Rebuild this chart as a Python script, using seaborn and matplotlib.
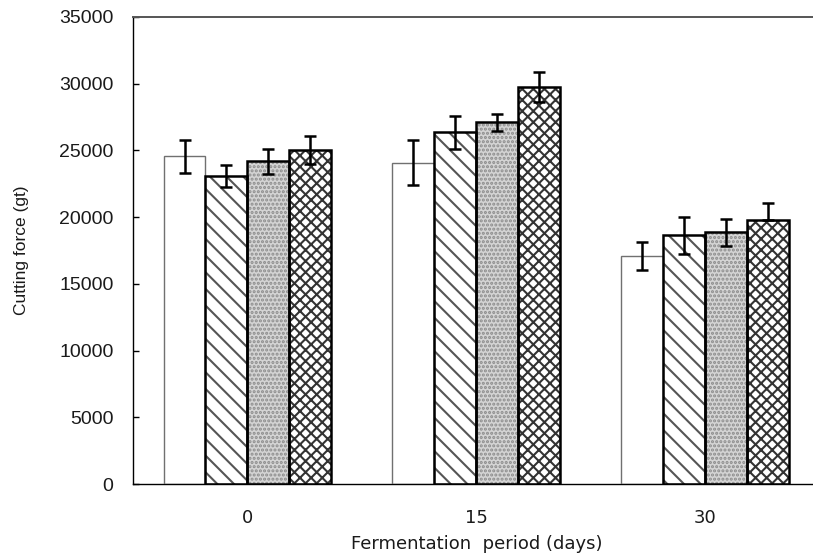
import matplotlib
matplotlib.use("Agg")
import matplotlib.pyplot as plt
import numpy as np
import pandas as pd
import seaborn as sns

# values
periods = ["0", "15", "30"]
treatments = ["T1", "T2", "T3", "T4"]
force_mean = {
    "T1": [24550, 24080, 17100],
    "T2": [23100, 26380, 18650],
    "T3": [24170, 27100, 18850],
    "T4": [25040, 29750, 19800],
}
err_low = {
    "T1": [1250, 1700, 1030],
    "T2": [830, 1300, 1380],
    "T3": [960, 670, 990],
    "T4": [1030, 1130, 0],
}
err_high = {
    "T1": [1220, 1700, 1050],
    "T2": [800, 1220, 1340],
    "T3": [970, 650, 980],
    "T4": [1020, 1120, 1250],
}

styles = {
    "T1": dict(face="white", hatch="", hatch_col="#707070", edge="#707070", lw=1.0),
    "T2": dict(face="white", hatch="\\\\", hatch_col="#555555", edge="black", lw=1.8),
    "T3": dict(face="#d4d4d4", hatch="....", hatch_col="#8c8c8c", edge="black", lw=1.8),
    "T4": dict(face="white", hatch="xxx", hatch_col="#333333", edge="black", lw=1.8),
}

rows = []
for t in treatments:
    for i, p in enumerate(periods):
        rows.append({"period": p, "treatment": t, "force": force_mean[t][i]})
df = pd.DataFrame(rows)

sns.set_theme(style="white")
plt.rcParams["hatch.linewidth"] = 1.5

fig = plt.figure(figsize=(8.13, 5.6), dpi=100)
ax = fig.add_axes([0.1636, 0.1357, 0.8444, 0.834])

sns.barplot(
    data=df, x="period", y="force", hue="treatment",
    order=periods, hue_order=treatments,
    errorbar=None, width=0.733, gap=0, legend=False, ax=ax,
)

bars = [p for p in ax.patches if p.get_height() > 0]
k = 0
for t in treatments:
    st = styles[t]
    for i in range(len(periods)):
        bar = bars[k]
        k += 1
        bar.set_facecolor(st["face"])
        bar.set_hatch(st["hatch"])
        bar.set_edgecolor(st["hatch_col"])
        bar.set_linewidth(0)
        outline = plt.Rectangle(bar.get_xy(), bar.get_width(), bar.get_height(),
                                fill=False, edgecolor=st["edge"], lw=st["lw"], zorder=3)
        ax.add_patch(outline)
        xc = bar.get_x() + bar.get_width() / 2
        ax.errorbar(xc, bar.get_height(),
                    yerr=[[err_low[t][i]], [err_high[t][i]]],
                    fmt="none", ecolor="black", elinewidth=1.8,
                    capsize=4.5, capthick=1.8, zorder=4)

ax.set_xlim(-0.5, 2.5)
ax.set_ylim(0, 35000)
ax.set_yticks(np.arange(0, 35001, 5000))

ax.spines["right"].set_visible(False)
for s in ["left", "bottom"]:
    ax.spines[s].set_color("black")
    ax.spines[s].set_linewidth(1.0)
ax.spines["top"].set_color("#555555")
ax.spines["top"].set_linewidth(1.4)

ax.tick_params(axis="y", direction="in", length=4, width=1, color="black",
               left=True, pad=14, labelsize=14)
ax.tick_params(axis="x", length=0, pad=18, labelsize=13)
for lab in ax.get_yticklabels():
    lab.set_fontfamily("Liberation Sans")
    lab.set_color("#1a1a1a")
for lab in ax.get_xticklabels():
    lab.set_fontfamily("DejaVu Sans")
    lab.set_color("#1a1a1a")

ax.set_ylabel("Cutting force (gt)", fontsize=12.5, family="Liberation Sans",
              color="#1a1a1a", labelpad=22)
ax.set_xlabel("Fermentation  period (days)", fontsize=13, family="DejaVu Sans",
              color="#1a1a1a", labelpad=6)

fig.savefig("out.png", dpi=100)
